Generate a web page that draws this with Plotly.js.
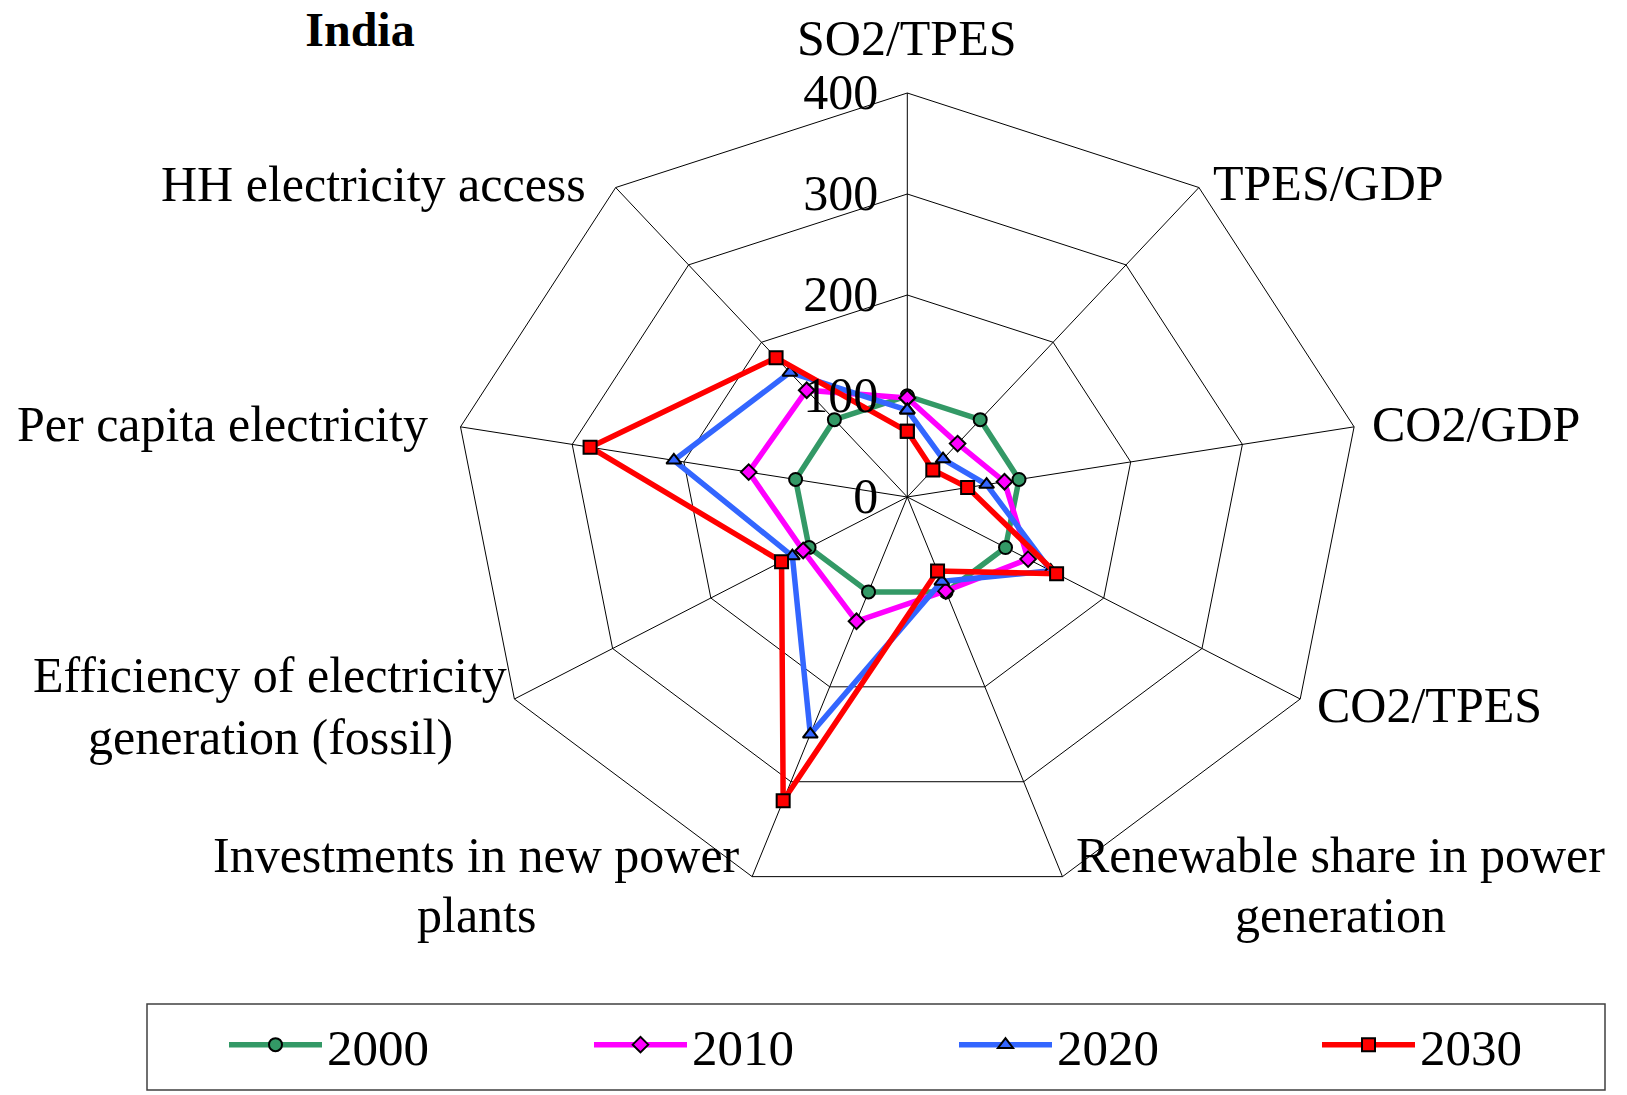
<!DOCTYPE html>
<html>
<head>
<meta charset="utf-8">
<script src="https://cdn.plot.ly/plotly-3.0.1.min.js"></script>
<style>
  html, body { margin: 0; padding: 0; background: #ffffff; }
  #chart { width: 1627px; height: 1095px; }
</style>
</head>
<body>
<div id="chart"></div>
<script>
// ---------------- data ----------------
const categories = [
  'SO2/TPES',
  'TPES/GDP',
  'CO2/GDP',
  'CO2/TPES',
  'Renewable share in power generation',
  'Investments in new power plants',
  'Efficiency of electricity generation (fossil)',
  'Per capita electricity',
  'HH electricity access'
];
const axisLabels = [
  'SO2/TPES',
  'TPES/GDP',
  'CO2/GDP',
  'CO2/TPES',
  'Renewable share in power<br>generation',
  'Investments in new power<br>plants',
  'Efficiency of electricity<br>generation (fossil)',
  'Per capita electricity',
  'HH electricity access'
];
const seriesNames = ['2000', '2010', '2020', '2030'];
const values2000 = [100, 100, 100, 100, 100, 100, 100, 100, 100];
const values2010 = [98, 69, 87, 123, 99, 131, 106, 142, 138];
const values2020 = [86, 49, 71, 146, 89, 250, 117, 209, 161];
const values2030 = [65, 35, 54, 152, 78, 320, 128, 284, 180];
const radialTicks = [0, 100, 200, 300, 400];

// ---------------- geometry / style ----------------
const W = 1627, H = 1095;
const CX = 907.3, CY = 497, R = 404;   // polar centre and outer radius (px)
const K = 1.123;                         // horizontal stretch of the radar
const px = x => x / W;
const py = y => 1 - y / H;
const FONT = 'Liberation Serif, Times New Roman, serif';

const styles = [
  { color: '#339966', symbol: 'circle', size: 13 },
  { color: '#FF00FF', symbol: 'diamond', size: 12 },
  { color: '#3366FF', symbol: 'triangle-up', size: 13 },
  { color: '#FF0000', symbol: 'square', size: 13 }
];
const legendIds = ['legend', 'legend2', 'legend3', 'legend4'];
const legendX = [224, 589, 954, 1317];
const allValues = [values2000, values2010, values2020, values2030];

const traces = allValues.map((vals, i) => ({
  type: 'scatterpolar',
  name: seriesNames[i],
  legend: legendIds[i],
  r: vals.concat([vals[0]]),
  theta: categories.concat([categories[0]]),
  mode: 'lines+markers',
  line: { color: styles[i].color, width: 5.5 },
  marker: {
    symbol: styles[i].symbol,
    size: styles[i].size,
    color: styles[i].color,
    line: { color: '#000000', width: 2 }
  },
  cliponaxis: false
}));

// label placement (px) for each category: anchor x, y of each text line
const labelPos = [
  { x: 907, ys: [37.5], xa: 'center' },
  { x: 1211, ys: [182.6], xa: 'left' },
  { x: 1370, ys: [424.4], xa: 'left' },
  { x: 1315, ys: [704.6], xa: 'left' },
  { x: 1340, ys: [855, 915], xa: 'center' },
  { x: 476, ys: [855, 915], xa: 'center' },
  { x: 270, ys: [674.5, 736.7], xa: 'center' },
  { x: 430, ys: [424.4], xa: 'right' },
  { x: 588, ys: [183.7], xa: 'right' }
];

const annotations = [];
axisLabels.forEach((t, i) => {
  const lines = t.split('<br>');
  lines.forEach((ln, j) => {
    annotations.push({
      text: ln,
      xref: 'paper', yref: 'paper',
      x: px(labelPos[i].x), y: py(labelPos[i].ys[j]),
      xanchor: labelPos[i].xa, yanchor: 'middle',
      align: 'center',
      showarrow: false,
      font: { family: FONT, size: 50, color: '#000000' }
    });
  });
});

const layout = {
  width: W, height: H,
  margin: { l: 0, r: 0, t: 0, b: 0, pad: 0, autoexpand: false },
  paper_bgcolor: '#ffffff',
  showlegend: true,
  title: {
    text: '<b>India</b>',
    x: px(360), xanchor: 'center',
    y: py(29), yanchor: 'middle',
    xref: 'paper', yref: 'container',
    font: { family: FONT, size: 48, color: '#000000' }
  },
  polar: {
    domain: { x: [px(CX - R), px(CX + R)], y: [py(CY + R), py(CY - R)] },
    gridshape: 'linear',
    bgcolor: '#ffffff',
    radialaxis: {
      range: [0, 400],
      tickvals: radialTicks,
      ticktext: radialTicks.map(String),
      angle: 90,
      tickangle: 90,
      side: 'counterclockwise',
      showline: false,
      ticks: '',
      showgrid: true,
      gridcolor: '#000000',
      gridwidth: 1,
      tickfont: { family: FONT, size: 50, color: '#000000' }
    },
    angularaxis: {
      type: 'category',
      categoryarray: categories,
      rotation: 90,
      direction: 'clockwise',
      showticklabels: false,
      ticks: '',
      showline: true,
      linecolor: '#000000',
      linewidth: 1,
      showgrid: true,
      gridcolor: '#000000',
      gridwidth: 1
    }
  },
  shapes: [{
    type: 'rect', xref: 'paper', yref: 'paper',
    x0: px(147), x1: px(1605), y0: py(1090), y1: py(1004),
    line: { color: '#404040', width: 1.5 },
    fillcolor: 'rgba(0,0,0,0)'
  }],
  annotations: annotations
};

legendIds.forEach((id, i) => {
  layout[id] = {
    orientation: 'h',
    x: px(legendX[i]), xanchor: 'left',
    y: py(1045), yanchor: 'middle',
    itemwidth: 93,
    font: { family: FONT, size: 51, color: '#000000' },
    bgcolor: 'rgba(0,0,0,0)',
    borderwidth: 0
  };
});

Plotly.newPlot('chart', traces, layout, { staticPlot: true, displayModeBar: false }).then(gd => {
  try {
    const polar = gd.querySelector('g.polar');
    if (!polar) return;
    const names = ['plotbg', 'angular-grid', 'radial-grid', 'frontplot', 'angular-line'];
    names.forEach(n => {
      const g = polar.querySelector('g.' + n);
      if (!g) return;
      const old = g.getAttribute('transform') || '';
      g.setAttribute('transform',
        'translate(' + CX + ',0) scale(' + K + ',1) translate(' + (-CX) + ',0) ' + old);
      g.querySelectorAll('path').forEach(p => {
        if (!p.classList.contains('point')) p.style.vectorEffect = 'non-scaling-stroke';
      });
    });
    polar.querySelectorAll('g.frontplot path.point').forEach(p => {
      const t = p.getAttribute('transform') || '';
      p.setAttribute('transform', t + ' scale(' + (1 / K) + ',1)');
    });
    // keep the radial tick labels clear of the vertical axis, as in the original
    const ra = polar.querySelector('g.radial-axis');
    if (ra) {
      const old = ra.getAttribute('transform') || '';
      ra.setAttribute('transform', 'translate(-21,0) ' + old);
    }
  } catch (e) { console.error(e); }
});
</script>
</body>
</html>
